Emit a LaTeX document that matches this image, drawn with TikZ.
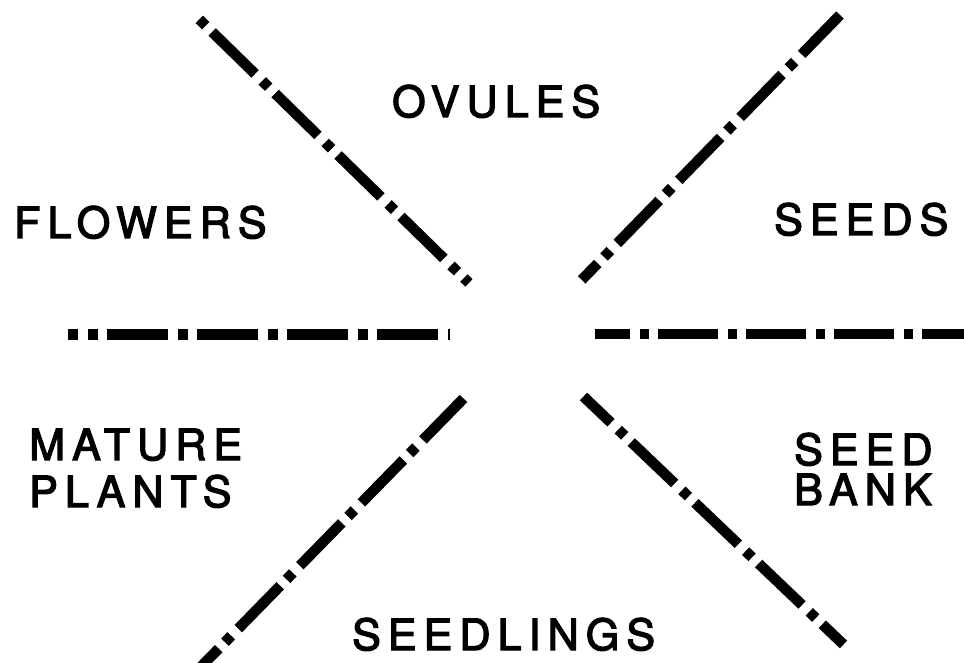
\documentclass[tikz,border=0pt]{standalone}
\usepackage{fontspec}
\newfontfamily\labfont[LetterSpace=16.5,FakeBold=3]{TeX Gyre Heros}
\begin{document}
\begin{tikzpicture}[x=1pt,y=-1pt,
  divline/.style={line width=10.5pt,line cap=butt,
    dash pattern=on 60pt off 10pt on 9pt off 9pt},
  hdivline/.style={line width=11pt,line cap=butt,
    dash pattern=on 61pt off 10pt on 10pt off 9pt},
  lab/.style={font={\labfont\fontsize{43pt}{47pt}\selectfont},inner sep=0pt,anchor=base west}]
\useasboundingbox (0,0) rectangle (964,663);
\clip (0,0) rectangle (964,663);
% dividing lines
\coordinate (ulA) at (199.3,19.4);  \coordinate (ulB) at (468.9,282.9);
\coordinate (urA) at (840,15);      \coordinate (urB) at (581.7,279.9);
\coordinate (llA) at (463.5,398.5); \coordinate (llB) at (183.7,684.4);
\coordinate (lrA) at (583.5,396.5); \coordinate (lrB) at (843.5,644.5);
\coordinate (hlA) at (68,334);      \coordinate (hlB) at (450,334);
\coordinate (hrA) at (595,334);     \coordinate (hrB) at (970,334);
\draw[divline,dash phase=70pt] (ulA) -- (ulB);
\draw[divline,dash phase=5pt] (urA) -- (urB);
\draw[divline,dash phase=2pt] (llA) -- (llB);
\draw[divline,dash phase=22pt] (lrA) -- (lrB);
\draw[hdivline,dash phase=51pt] (hlA) -- (hlB);
\draw[divline,dash phase=25pt] (hrA) -- (hrB);
% labels
\node[lab] (ovules) at (392,117) {OVULES};
\node[lab] (flowers) at (14,238) {FLOWERS};
\node[lab] (seeds) at (774,235) {SEEDS};
\node[lab] (mature) at (29,460) {\vtop{\baselineskip=47pt\hbox{MATURE}\hbox{PLANTS}}};
\node[lab] (seedbank) at (794,465) {\vtop{\baselineskip=40pt\hbox{SEED}\hbox{BANK}}};
\node[lab] (seedlings) at (352,650) {SEEDLINGS};
\end{tikzpicture}
\end{document}
